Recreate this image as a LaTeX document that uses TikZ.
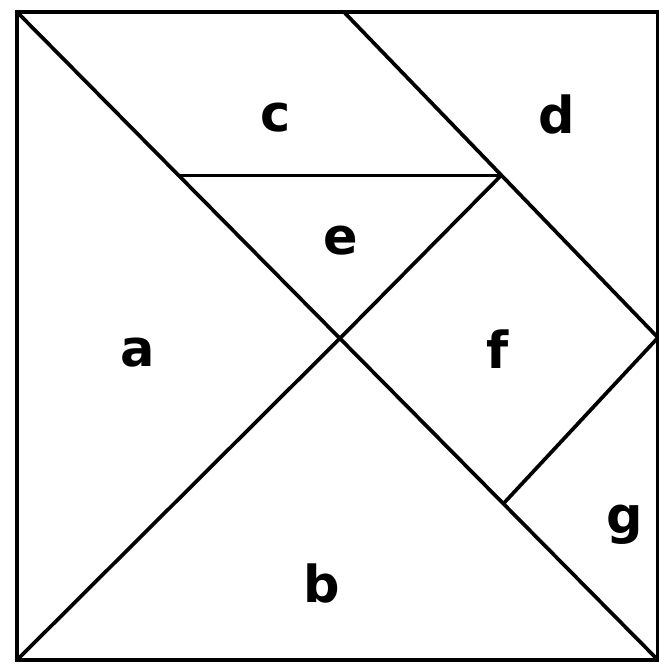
\documentclass[tikz,border=0pt]{standalone}
\usepackage{fontspec}
\setsansfont{DejaVu Sans}
\tikzset{
  cut/.style={line width=2.1pt, line join=miter},
  piecename/.style={font=\sffamily\bfseries\fontsize{29}{35}\selectfont, anchor=base, inner sep=0pt}
}
\begin{document}
\begin{tikzpicture}[x=3.205cm, y=3.24cm]
        \useasboundingbox (-0.106,-0.037) rectangle (4.006,4.074);
        % Corners and cut points of the square
        \coordinate (sw) at (0,0);
        \coordinate (ne) at (4,4);
        \coordinate (nw) at (0,4);
        \coordinate (se) at (4,0);
        \coordinate (mid) at (2.02,1.99);
        \coordinate (topmid) at (2.04,4);
        \coordinate (rightmid) at (4,1.99);
        \coordinate (el) at (1.02,2.99);
        \coordinate (er) at (3.02,2.99);
        \coordinate (gs) at (3.04,0.97);
        % Outer square
        \draw[cut] (sw) rectangle (ne);
        % Main diagonal
        \draw[cut] (nw) -- (se);
        % Half diagonal up to the top of e
        \draw[cut] (sw) -- (mid) -- (er);
        % Top of e
        \draw[cut] (el) -- (er);
        % Edge between c, d and f
        \draw[cut] (topmid) -- (rightmid);
        % Edge between f and g
        \draw[cut] (rightmid) -- (gs);
        % Piece names
        \node[piecename] (a) at (0.755,1.809) {a};
        \node[piecename] (b) at (1.903,0.358) {b};
        \node[piecename] (c) at (1.616,3.265) {c};
        \node[piecename] (d) at (3.370,3.253) {d};
        \node[piecename] (e) at (2.022,2.500) {e};
        \node[piecename] (f) at (3.002,1.802) {f};
        \node[piecename] (g) at (3.794,0.778) {g};
      \end{tikzpicture}
\end{document}
